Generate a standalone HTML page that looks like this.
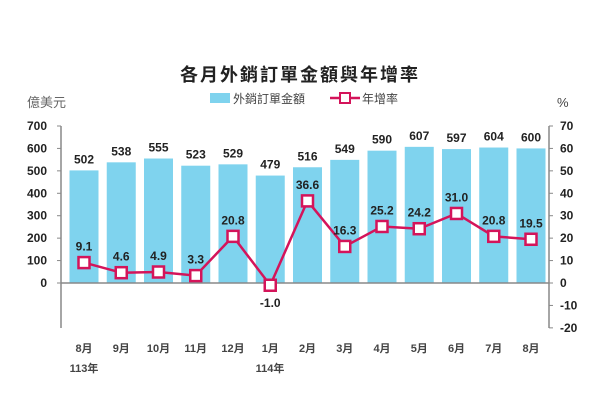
<!DOCTYPE html>
<html><head><meta charset="utf-8"><style>
body{margin:0;background:#fff;}
text{font-family:"Liberation Sans","Noto Sans CJK TC",sans-serif;}
</style></head><body>
<svg width="600" height="400" xmlns="http://www.w3.org/2000/svg">
<rect width="600" height="400" fill="#fff"/>
<text x="300" y="81" text-anchor="middle" font-size="18" font-weight="bold" fill="#222" font-family="'Noto Serif CJK SC',serif" letter-spacing="2">各月外銷訂單金額與年增率</text>
<rect x="210" y="93" width="20" height="10" fill="#7fd3ee"/>
<text x="233" y="103" font-size="12" fill="#444">外銷訂單金額</text>
<line x1="330" y1="98" x2="360" y2="98" stroke="#d4145a" stroke-width="2.5"/>
<rect x="340" y="93" width="10" height="10" fill="#fff" stroke="#d4145a" stroke-width="2"/>
<text x="362" y="103" font-size="12" fill="#444">年增率</text>
<text x="27" y="107" font-size="13" fill="#666">億美元</text>
<text x="557" y="107" font-size="13" fill="#444">%</text>
<g id="bars" fill="#7fd3ee"></g>
<g font-size="12" font-weight="bold" fill="#222" id="labels"></g>
</svg>
<script>
const s=document.querySelector('svg'),NS='http://www.w3.org/2000/svg';
function el(t,a,txt){const e=document.createElementNS(NS,t);for(const k in a)e.setAttribute(k,a[k]);if(txt!==undefined)e.textContent=txt;s.appendChild(e);return e;}
const y0=283,k=0.2243;
const bars=[502,538,555,523,529,479,516,549,590,607,597,604,600];
const pct=[9.1,4.6,4.9,3.3,20.8,-1.0,36.6,16.3,25.2,24.2,31.0,20.8,19.5];
const months=['8月','9月','10月','11月','12月','1月','2月','3月','4月','5月','6月','7月','8月'];
const cx=i=>84+i*37.25;
bars.forEach((v,i)=>{el('rect',{x:cx(i)-14.5,y:y0-v*k,width:29,height:v*k,fill:'#7fd3ee'});
el('text',{x:cx(i),y:y0-v*k-7,'text-anchor':'middle','font-size':12,'font-weight':'bold',fill:'#222'},v);
el('text',{x:cx(i),y:352,'text-anchor':'middle','font-size':11,'font-weight':'bold',fill:'#444'},months[i]);});
el('text',{x:84,y:372,'text-anchor':'middle','font-size':11,'font-weight':'bold',fill:'#444'},'113年');
el('text',{x:270,y:372,'text-anchor':'middle','font-size':11,'font-weight':'bold',fill:'#444'},'114年');
// axes
el('line',{x1:61,y1:126,x2:61,y2:328,stroke:'#888','stroke-width':1.5});
el('line',{x1:549,y1:126,x2:549,y2:328,stroke:'#888','stroke-width':1.5});
el('line',{x1:61,y1:y0,x2:549,y2:y0,stroke:'#888','stroke-width':1.5});
for(let v=0;v<=700;v+=100){const y=y0-v*k;el('line',{x1:57,y1:y,x2:61,y2:y,stroke:'#888'});
el('text',{x:47,y:y+4,'text-anchor':'end','font-size':12,'font-weight':'bold',fill:'#222'},v);}
for(let v=-20;v<=70;v+=10){const y=y0-v*k*10;el('line',{x1:549,y1:y,x2:553,y2:y,stroke:'#888'});
el('text',{x:560,y:y+4,'font-size':12,'font-weight':'bold',fill:'#222'},v);}
const py=v=>y0-v*k*10;
el('polyline',{points:pct.map((v,i)=>cx(i)+','+py(v)).join(' '),fill:'none',stroke:'#d4145a','stroke-width':2.5});
pct.forEach((v,i)=>{el('rect',{x:cx(i)-5.5,y:py(v)-5.5,width:11,height:11,fill:'#fff',stroke:'#d4145a','stroke-width':2.5});
const ly=v<0?py(v)+22:py(v)-12;
el('text',{x:cx(i),y:ly,'text-anchor':'middle','font-size':12,'font-weight':'bold',fill:'#222'},v.toFixed(1));});
</script>
</body></html>
